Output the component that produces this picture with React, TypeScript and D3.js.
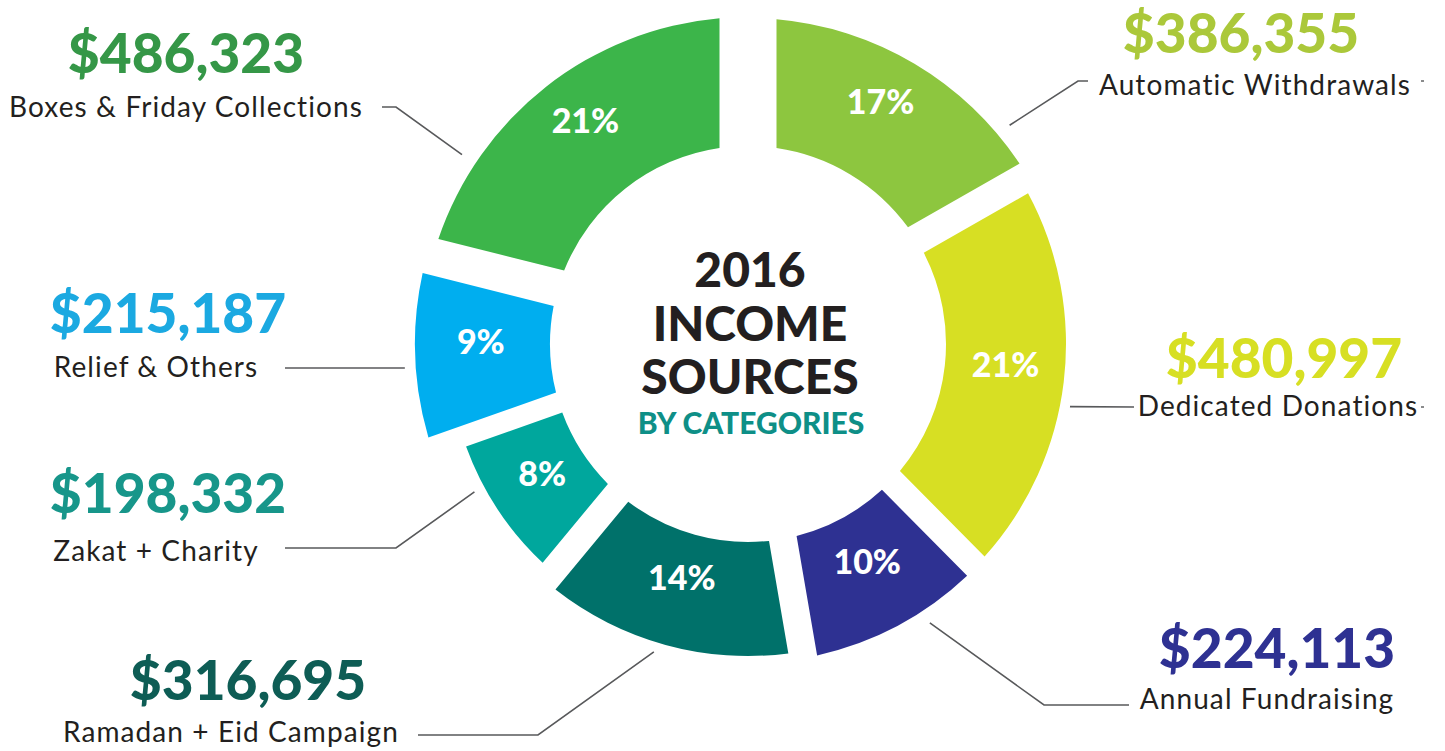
import React from "react";
import * as d3 from "d3";

// ---- data ----
const categories = [
  "Automatic Withdrawals",
  "Dedicated Donations",
  "Annual Fundraising",
  "Ramadan + Eid Campaign",
  "Zakat + Charity",
  "Relief & Others",
  "Boxes & Friday Collections",
];
const amounts = [386355, 480997, 224113, 316695, 198332, 215187, 486323];
const percentLabels = ["17%", "21%", "10%", "14%", "8%", "9%", "21%"];
const titleLines = ["2016", "INCOME", "SOURCES"];
const subtitle = "BY CATEGORIES";

// ---- styles / layout (not data) ----
const sliceColors = ["#8dc63f", "#d7df23", "#2e3192", "#00716a", "#00a79d", "#00aeef", "#3cb54a"];
const amountColors = ["#abc83a", "#d7df23", "#2e3192", "#0e5d55", "#17968a", "#1ba9e1", "#359747"];
const outerRadii = [326, 318, 319, 312, 300, 333, 327];
const gapBefore = [57, 30, 26, 28, 27, 21, 37];
const INNER = 198;
const CX = 748;
const CY = 344;
const BOUNDARY_ORIGIN: [number, number] = [0, -8]; // gap centre-lines meet here (relative to CX,CY)
const LABEL_ORIGIN: [number, number] = [0, -14];

// annotation layout: value/label anchor and leader geometry
const annotLayout = [
  { vx: 1241, vy: 53, lx: 1255, ly: 95, startDeg: 50.1, startR: 341, pts: [[1078, 81], [1088, 81]], tick: [1421, 81] },
  { vx: 1284, vy: 378, lx: 1278, ly: 416, startDeg: 101, startR: 328, pts: [[1134, 407]], tick: [1421, 407] },
  { vx: 1277, vy: 668, lx: 1267, ly: 709, startDeg: 146.9, startR: 333, pts: [[1044, 705], [1129, 705]], tick: null },
  { vx: 248, vy: 700, lx: 231, ly: 742, startDeg: 197, startR: 322, pts: [[538, 735], [418, 735]], tick: null },
  { vx: 168, vy: 513, lx: 156, ly: 561, startDeg: 241.6, startR: 311, pts: [[396, 548], [285, 548]], tick: null },
  { vx: 168, vy: 333, lx: 156, ly: 377, startDeg: 266, startR: 344, pts: [[285, 368]], tick: null },
  { vx: 186, vy: 73, lx: 186, ly: 117, startDeg: 303.5, startR: 343, pts: [[396, 107], [382, 107]], tick: null },
];

const fmt = d3.format("$,");

// point where the gap edge (offset h from the boundary ray at angle theta) meets circle rho
function corner(theta: number, h: number, rho: number): [number, number] {
  const u = [Math.sin(theta), -Math.cos(theta)];
  const nrm = [Math.cos(theta), Math.sin(theta)];
  const Q = [BOUNDARY_ORIGIN[0] + h * nrm[0], BOUNDARY_ORIGIN[1] + h * nrm[1]];
  const qu = Q[0] * u[0] + Q[1] * u[1];
  const qq = Q[0] * Q[0] + Q[1] * Q[1];
  const t = -qu + Math.sqrt(qu * qu - qq + rho * rho);
  return [Q[0] + t * u[0], Q[1] + t * u[1]];
}

function slicePath(a0: number, a1: number, r: number, R: number, h0: number, h1: number) {
  const p = d3.path();
  const o0 = corner(a0, h0, R);
  const o1 = corner(a1, -h1, R);
  const i0 = corner(a0, h0, r);
  const i1 = corner(a1, -h1, r);
  const ang = (pt: [number, number]) => Math.atan2(pt[1], pt[0]);
  p.moveTo(o0[0], o0[1]);
  p.arc(0, 0, R, ang(o0), ang(o1), false);
  p.lineTo(i1[0], i1[1]);
  p.arc(0, 0, r, ang(i1), ang(i0), true);
  p.closePath();
  return p.toString();
}

export default function App() {
  const pie = d3
    .pie<number>()
    .sort(null)
    .value((d) => d)
    .startAngle(0)
    .endAngle(2 * Math.PI);
  const arcs = pie(amounts);
  const n = amounts.length;

  const polar = (deg: number, r: number): [number, number] => {
    const a = (deg * Math.PI) / 180;
    return [CX + r * Math.sin(a), CY - r * Math.cos(a)];
  };

  const line = d3.line();

  return (
    <svg
      width={1445}
      height={751}
      style={{ position: "absolute", left: 0, top: 0, background: "#ffffff" }}
    >
      <g transform={`translate(${CX},${CY})`}>
        {arcs.map((a, i) => {
          const R = outerRadii[i];
          const h0 = gapBefore[i] / 2;
          const h1 = gapBefore[(i + 1) % n] / 2;
          const d = slicePath(a.startAngle, a.endAngle, INNER, R, h0, h1);
          const mid = (a.startAngle + a.endAngle) / 2;
          const lr = (INNER + R) / 2 + 2;
          const tx = LABEL_ORIGIN[0] + lr * Math.sin(mid);
          const ty = LABEL_ORIGIN[1] - lr * Math.cos(mid);
          return (
            <g key={categories[i]}>
              <path d={d} fill={sliceColors[i]} />
              <text
                x={tx}
                y={ty + 12}
                textAnchor="middle"
                fill="#ffffff"
                fontFamily="Lato, 'Open Sans', sans-serif"
                fontWeight={900}
                fontSize={34}
              >
                {percentLabels[i]}
              </text>
            </g>
          );
        })}
      </g>

      {/* center title */}
      <g fontFamily="Lato, 'Open Sans', sans-serif" fontWeight={900} textAnchor="middle">
        {titleLines.map((t, i) => (
          <text key={t} x={750} y={287 + i * 53.5} fontSize={48} fill="#231f20">
            {t}
          </text>
        ))}
        <text x={751} y={434} fontSize={30} fill="#0e8f87">
          {subtitle}
        </text>
      </g>

      {/* annotations */}
      {annotLayout.map((L, i) => {
        const start = polar(L.startDeg, L.startR);
        const pts = [start, ...L.pts] as [number, number][];
        return (
          <g key={"ann" + i}>
            <path d={line(pts) || ""} fill="none" stroke="#58595b" strokeWidth={1.6} />
            {L.tick && (
              <line
                x1={L.tick[0]}
                x2={L.tick[0] + 3}
                y1={L.tick[1]}
                y2={L.tick[1]}
                stroke="#58595b"
                strokeWidth={1.4}
              />
            )}
            <text
              x={L.vx}
              y={L.vy}
              textAnchor="middle"
              fontFamily="Lato, 'Open Sans', sans-serif"
              fontWeight={900}
              fontSize={55}
              fill={amountColors[i]}
            >
              {fmt(amounts[i])}
            </text>
            <text
              x={L.lx}
              y={L.ly}
              textAnchor="middle"
              fontFamily="Lato, 'Open Sans', sans-serif"
              fontWeight={400}
              fontSize={28}
              letterSpacing={1.1}
              fill="#231f20"
            >
              {categories[i]}
            </text>
          </g>
        );
      })}
    </svg>
  );
}
